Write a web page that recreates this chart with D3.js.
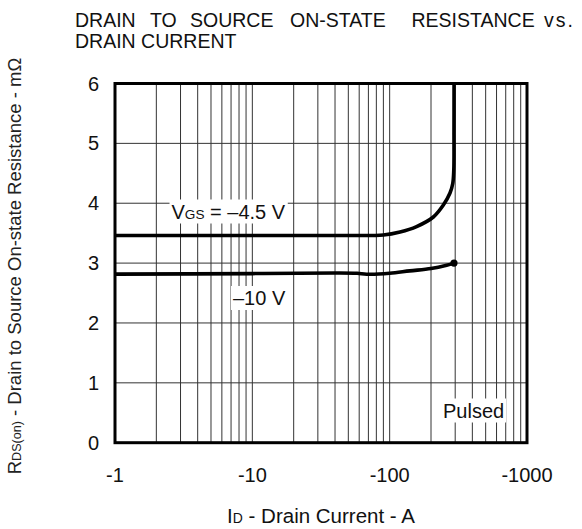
<!DOCTYPE html>
<html>
<head>
<meta charset="utf-8">
<script src="https://cdn.jsdelivr.net/npm/d3@7"></script>
<style>
  html, body { margin: 0; padding: 0; background: #fff; }
  svg { display: block; font-family: Arial, "Liberation Sans", Helvetica, sans-serif; }
</style>
</head>
<body>
<svg id="chart" width="582" height="529"></svg>
<script>
// ---- data ----
const titleLine1Words = ["DRAIN", "TO", "SOURCE", "ON-STATE", "RESISTANCE", "vs."];
const titleLine2 = "DRAIN CURRENT";
const xTickValues = [-1, -10, -100, -1000];
const xTickLabels = ["-1", "-10", "-100", "-1000"];
const yTickValues = [0, 1, 2, 3, 4, 5, 6];
const yTickLabels = ["0", "1", "2", "3", "4", "5", "6"];

// VGS = -4.5 V
const idVgs45 = [-1, -10, -50, -90, -119, -157, -208, -246, -275, -288, -293, -294, -294.3];
const rVgs45  = [3.46, 3.46, 3.46, 3.47, 3.52, 3.61, 3.77, 3.97, 4.17, 4.33, 4.55, 5.2, 6.0];
// VGS = -10 V
const idVgs10 = [-1, -10, -40, -58, -68, -100, -140, -200, -260, -294];
const rVgs10  = [2.815, 2.825, 2.835, 2.83, 2.815, 2.83, 2.87, 2.91, 2.965, 3.0];

// ---- layout ----
const svg = d3.select("#chart");
const L = 115, R = 527, T = 83.5, B = 442.7;
const x = d3.scaleLog().domain([-1, -1000]).range([L, R]);
const y = d3.scaleLinear().domain([0, 6]).range([B, T]);
const FS = 20;

// gridlines
const grid = svg.append("g").attr("stroke", "#333").attr("stroke-width", 1);
grid.selectAll("line.v").data(x.ticks().filter(d => d !== -1 && d !== -1000))
  .join("line").attr("class", "v")
  .attr("x1", d => x(d)).attr("x2", d => x(d)).attr("y1", T).attr("y2", B);
grid.selectAll("line.h").data(yTickValues.filter(d => d !== 0 && d !== 6))
  .join("line").attr("class", "h")
  .attr("x1", L).attr("x2", R).attr("y1", d => y(d)).attr("y2", d => y(d));

// label backgrounds + labels inside plot
function plotLabel(parts, xPos, yPos) {
  const g = svg.append("g");
  const bg = g.append("rect").attr("fill", "#fff");
  const t = g.append("text").attr("x", xPos).attr("y", yPos)
    .attr("font-size", FS).attr("fill", "#111");
  parts.forEach(p => {
    t.append("tspan").attr("font-size", p.sub ? FS * 0.68 : FS).text(p.t);
  });
  const bb = t.node().getBBox();
  bg.attr("x", bb.x - 2).attr("y", bb.y - 1).attr("width", bb.width + 4).attr("height", bb.height + 2);
}
plotLabel([{t: "V"}, {t: "GS", sub: true}, {t: " = \u20134.5 V"}], 171.5, 218.5);
plotLabel([{t: "\u201310 V"}], 233, 305);
plotLabel([{t: "Pulsed"}], 443, 417.5);

// curves
svg.append("clipPath").attr("id", "plotclip")
  .append("rect").attr("x", L).attr("y", T).attr("width", R - L).attr("height", B - T);
const line = d3.line().x(d => x(d[0])).y(d => y(d[1])).curve(d3.curveCatmullRom.alpha(0.5));
const curves = svg.append("g").attr("clip-path", "url(#plotclip)");
curves.append("path").datum(d3.zip(idVgs45, rVgs45)).attr("d", line)
  .attr("fill", "none").attr("stroke", "#000").attr("stroke-width", 3.6);
curves.append("path").datum(d3.zip(idVgs10, rVgs10)).attr("d", line)
  .attr("fill", "none").attr("stroke", "#000").attr("stroke-width", 3.6);
svg.append("circle").attr("cx", x(idVgs10[idVgs10.length - 1])).attr("cy", y(rVgs10[rVgs10.length - 1]))
  .attr("r", 3.6).attr("fill", "#000");

// frame
svg.append("rect").attr("x", L).attr("y", T).attr("width", R - L).attr("height", B - T)
  .attr("fill", "none").attr("stroke", "#000").attr("stroke-width", 3);

// tick labels
svg.append("g").selectAll("text").data(yTickValues).join("text")
  .attr("x", 99).attr("y", d => y(d)).attr("dy", "0.35em")
  .attr("text-anchor", "end").attr("font-size", FS).attr("fill", "#111")
  .text((d, i) => yTickLabels[i]);
svg.append("g").selectAll("text").data(xTickValues).join("text")
  .attr("x", d => x(d)).attr("y", 481.5)
  .attr("text-anchor", "middle").attr("font-size", FS).attr("fill", "#111")
  .text((d, i) => xTickLabels[i]);

// title
const TFS = 19.5;
const titlePos = [75, 150, 190, 290, 411.5, 544];
const tt = svg.append("text").attr("font-size", TFS).attr("fill", "#111");
titleLine1Words.forEach((w, i) => {
  tt.append("tspan").attr("x", titlePos[i]).attr("y", 26.5)
    .attr("letter-spacing", i === titleLine1Words.length - 1 ? 2 : 0).text(w);
});
svg.append("text").attr("x", 75).attr("y", 48).attr("font-size", TFS).attr("fill", "#111").text(titleLine2);

// x axis label
const xl = svg.append("text").attr("x", (L + R) / 2).attr("y", 523)
  .attr("text-anchor", "middle").attr("font-size", 20.5).attr("fill", "#111");
xl.append("tspan").text("I");
xl.append("tspan").attr("font-size", 20.5 * 0.68).text("D");
xl.append("tspan").text(" - Drain Current - A");

// y axis label
const yl = svg.append("text").attr("transform", "translate(21,266) rotate(-90)")
  .attr("text-anchor", "middle").attr("font-size", 18.5).attr("fill", "#222");
yl.append("tspan").text("R");
yl.append("tspan").attr("font-size", 18.5 * 0.68).text("DS(on)");
yl.append("tspan").text(" - Drain to Source On-state Resistance - m\u03A9");
</script>
</body>
</html>
